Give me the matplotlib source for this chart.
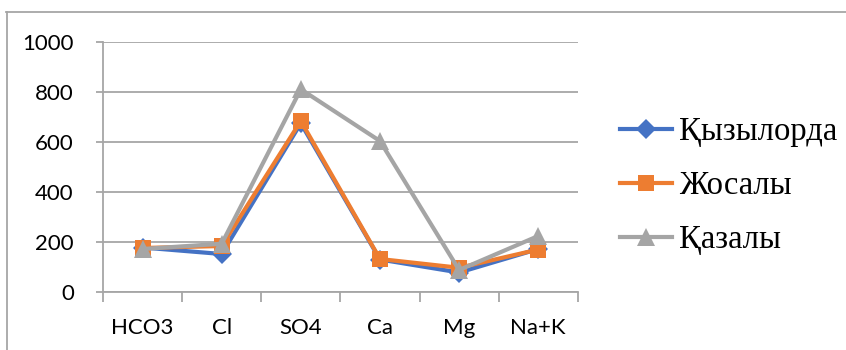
import matplotlib.pyplot as plt
from matplotlib.lines import Line2D

# ion concentrations by sampling site
ions = ["HCO3", "Cl", "SO4", "Ca", "Mg", "Na+K"]
kyzylorda = [178, 152, 675, 130, 78, 172]
zhosaly = [176, 184, 684, 132, 97, 170]
kazaly = [172, 193, 811, 604, 88, 224]

series = [
    ("Қызылорда", kyzylorda, "#4472C4", "D", 10),
    ("Жосалы", zhosaly, "#ED7D31", "s", 12),
    ("Қазалы", kazaly, "#A5A5A5", "^", 13),
]

fig = plt.figure(figsize=(8.46, 3.5), dpi=100)
ax = fig.add_axes([0.1217, 0.1657, 0.5613, 0.7143])

x = list(range(len(ions)))
for label, vals, color, marker, ms in series:
    ax.plot(x, vals, color=color, linewidth=3, marker=marker, markersize=ms,
            markeredgewidth=0, label=label, solid_joinstyle="miter")

ax.set_xlim(-0.5, len(ions) - 0.5)
ax.set_ylim(0, 1000)
ax.set_yticks(range(0, 1001, 200))
ax.set_xticks(x)
ax.set_xticklabels(ions)
ax.set_xticks([i - 0.5 for i in range(len(ions) + 1)], minor=True)

ax.grid(axis="y", color="#A6A6A6", linewidth=1.3)
ax.set_axisbelow(True)
for side in ("top", "right"):
    ax.spines[side].set_visible(False)
ax.spines["left"].set_color("#A6A6A6")
ax.spines["bottom"].set_color("#A6A6A6")
ax.spines["left"].set_linewidth(1.3)
ax.spines["bottom"].set_linewidth(1.3)

ax.tick_params(axis="y", length=5, width=1.3, color="#A6A6A6", pad=16,
               labelsize=16, labelcolor="black")
ax.tick_params(axis="x", which="major", length=0, pad=19, labelsize=16)
ax.tick_params(axis="x", which="minor", length=7, width=1.3, color="#A6A6A6")
for lbl in ax.get_xticklabels() + ax.get_yticklabels():
    lbl.set_family("Lato")

leg = fig.legend(loc="center left", bbox_to_anchor=(0.733, 0.469), frameon=False,
                 prop={"family": "Liberation Serif", "size": 23.5},
                 handlelength=1.6, handletextpad=0.2, labelspacing=0.72,
                 borderpad=0, borderaxespad=0)

# chart area frame (top and left edges)
fig.add_artist(Line2D([6 / 846, 1], [1 - 12 / 350, 1 - 12 / 350],
                      transform=fig.transFigure, color="#A6A6A6", linewidth=1.3))
fig.add_artist(Line2D([7 / 846, 7 / 846], [0, 1 - 12 / 350],
                      transform=fig.transFigure, color="#A6A6A6", linewidth=1.3))

fig.savefig("out.png", dpi=100)
